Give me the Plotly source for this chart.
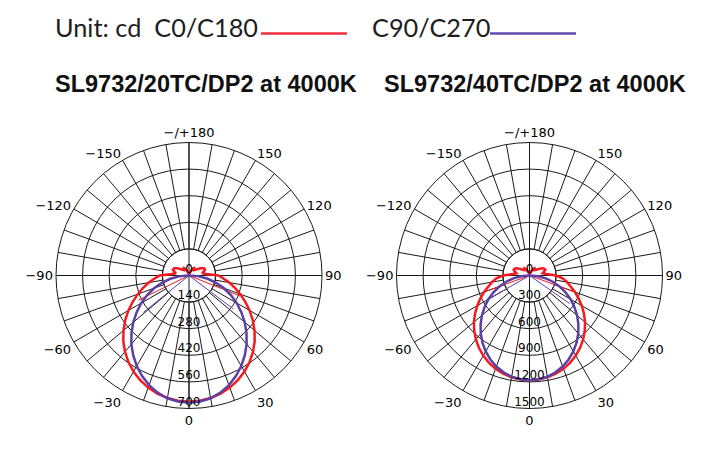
import plotly.graph_objects as go

# ---------------- data ----------------
GAMMA = [0, 5, 10, 15, 20, 25, 30, 35, 40, 45, 50, 55, 60, 65, 70, 75, 80, 85, 90,
         95, 100, 105, 110, 115, 120, 125, 130, 135, 140, 145, 150, 155, 160, 165, 170, 175, 180]

# SL9732/20TC/DP2 (cd)
L_C0 = [665, 662, 655, 644, 628, 608, 584, 556, 524, 489, 450, 410, 368, 327, 287, 250, 215, 182, 155,
        90, 70, 80, 90, 88, 78, 62, 48, 40, 45, 48, 42, 30, 18, 10, 5, 2, 0]
L_C90 = [670, 666, 656, 638, 614, 584, 550, 512, 472, 428, 383, 336, 290, 243, 196, 148, 100, 52, 8,
         5, 4, 3, 3, 3, 3, 2, 2, 2, 2, 2, 1, 1, 1, 1, 0, 0, 0]
# SL9732/40TC/DP2 (cd)
R_C0 = [1182, 1178, 1166, 1147, 1120, 1085, 1043, 995, 941, 881, 818, 750, 680, 611, 545, 480, 430, 375, 300,
        190, 150, 170, 190, 185, 165, 130, 100, 85, 95, 100, 88, 62, 38, 20, 10, 4, 0]
R_C90 = [1180, 1175, 1160, 1130, 1092, 1045, 988, 925, 855, 780, 700, 618, 535, 448, 360, 272, 185, 95, 10,
         6, 5, 4, 4, 3, 3, 3, 2, 2, 2, 2, 2, 1, 1, 1, 0, 0, 0]

# thin spikes (angle, cd)
L_C0_SPIKE_T, L_C0_SPIKE_R = [-64, 68], [295, 290]
L_C90_SPIKE_T, L_C90_SPIKE_R = [-51, 53], [308, 292]
R_C0_SPIKE_T, R_C0_SPIKE_R = [-70, 70], [500, 540]
R_C90_SPIKE_T, R_C90_SPIKE_R = [-60, 55], [564, 552]

L_RINGS = [0, 140, 280, 420, 560, 700]
R_RINGS = [0, 300, 600, 900, 1200, 1500]

ANG_TICKS = list(range(0, 360, 10))
ANG_LABELS = {0: "0", 30: "30", 60: "60", 90: "90", 120: "120", 150: "150", 180: "\u2212/+180",
              210: "\u2212150", 240: "\u2212120", 270: "\u221290", 300: "\u221260", 330: "\u221230"}

TITLES = ["SL9732/20TC/DP2 at 4000K", "SL9732/40TC/DP2 at 4000K"]

RED = "#f41a1f"
PURPLE = "#5b40a6"
GRID = "#1a1a1a"

# ---------------- helpers ----------------
def full_curve(vals):
    theta = [-g for g in reversed(GAMMA[1:])] + GAMMA
    r = list(reversed(vals[1:])) + vals
    return theta, r


def spikes(ts, rs):
    th, rr = [], []
    for t, v in zip(ts, rs):
        th += [t, t, None]
        rr += [0, v, None]
    return th, rr


W, H = 720, 468
OFF = 8  # page body margin compensation


def px(x):
    return (x - OFF) / W


def py(y):
    return 1 - (y - OFF) / H


fig = go.Figure()

R = 133
centers = [(189, 275.5), (529.5, 275.5)]
charts = [
    (L_C0, L_C90, L_C0_SPIKE_T, L_C0_SPIKE_R, L_C90_SPIKE_T, L_C90_SPIKE_R, L_RINGS),
    (R_C0, R_C90, R_C0_SPIKE_T, R_C0_SPIKE_R, R_C90_SPIKE_T, R_C90_SPIKE_R, R_RINGS),
]

layout_polars = {}
for i, (c0, c90, s0t, s0r, s9t, s9r, rings) in enumerate(charts):
    cx, cy = centers[i]
    dom = dict(x=[px(cx - R), px(cx + R)], y=[py(cy + R), py(cy - R)])
    gname = "polar" if i == 0 else "polar3"
    dname = "polar2" if i == 0 else "polar4"
    rmax = rings[-1]
    inner = rings[1]

    layout_polars[gname] = dict(
        domain=dom, hole=inner / rmax, bgcolor="white",
        angularaxis=dict(rotation=270, direction="counterclockwise",
                         tickmode="array", tickvals=ANG_TICKS,
                         ticktext=[ANG_LABELS.get(t, "") for t in ANG_TICKS],
                         showgrid=True, gridcolor=GRID, gridwidth=1,
                         showline=True, linecolor=GRID, linewidth=1, ticks="",
                         tickfont=dict(family="DejaVu Sans", size=13, color="#000")),
        radialaxis=dict(range=[inner, rmax], tickmode="array", tickvals=rings[1:-1],
                        showgrid=True, gridcolor=GRID, gridwidth=1,
                        showline=False, showticklabels=False, ticks=""),
    )
    layout_polars[dname] = dict(
        domain=dom, bgcolor="rgba(0,0,0,0)",
        angularaxis=dict(rotation=270, direction="counterclockwise",
                         tickmode="array", tickvals=[0, 90, 180, 270],
                         showgrid=True, gridcolor=GRID, gridwidth=1,
                         showline=False, showticklabels=False, ticks=""),
        radialaxis=dict(range=[0, rmax], tickmode="array", tickvals=[inner],
                        showgrid=True, gridcolor=GRID, gridwidth=1,
                        showline=False, showticklabels=False, ticks=""),
    )

    fig.add_trace(go.Scatterpolar(r=[inner], theta=[0], mode="markers",
                                  marker=dict(opacity=0), hoverinfo="skip",
                                  subplot=gname))

    th, rr = spikes(s0t, s0r)
    fig.add_trace(go.Scatterpolar(r=rr, theta=th, mode="lines",
                                  line=dict(color=RED, width=1), subplot=dname))
    th, rr = spikes(s9t, s9r)
    fig.add_trace(go.Scatterpolar(r=rr, theta=th, mode="lines",
                                  line=dict(color=PURPLE, width=1), subplot=dname))
    th, rr = full_curve(c0)
    fig.add_trace(go.Scatterpolar(r=rr, theta=th, mode="lines", name="C0/C180",
                                  line=dict(color=RED, width=2.5), subplot=dname))
    th, rr = full_curve(c90)
    fig.add_trace(go.Scatterpolar(r=rr, theta=th, mode="lines", name="C90/C270",
                                  line=dict(color=PURPLE, width=2.5), subplot=dname))
    fig.add_trace(go.Scatterpolar(r=rings, theta=[0] * len(rings), mode="text",
                                  text=[str(v) for v in rings], textposition="top center",
                                  textfont=dict(family="DejaVu Sans", size=12, color="#000"),
                                  cliponaxis=False, subplot=dname))

fig.update_layout(**layout_polars)

ann = []
ann.append(dict(x=px(53), y=py(27), xref="paper", yref="paper", xanchor="left", yanchor="middle",
                text="Unit: cd  C0/C180", showarrow=False,
                font=dict(family="Lato", size=25.3, color="#1e1e1e")))
ann.append(dict(x=px(370), y=py(27), xref="paper", yref="paper", xanchor="left", yanchor="middle",
                text="C90/C270", showarrow=False,
                font=dict(family="Lato", size=25.3, color="#1e1e1e")))
for x0, t in zip([53, 382], TITLES):
    ann.append(dict(x=px(x0), y=py(84), xref="paper", yref="paper", xanchor="left", yanchor="middle",
                    text="<b>" + t + "</b>", showarrow=False,
                    font=dict(family="Liberation Sans", size=23.5, color="#111")))

shapes = [
    dict(type="line", xref="paper", yref="paper", x0=px(261), x1=px(347), y0=py(33.5), y1=py(33.5),
         line=dict(color="#ee2f3c", width=2.5)),
    dict(type="line", xref="paper", yref="paper", x0=px(490), x1=px(576), y0=py(33.5), y1=py(33.5),
         line=dict(color="#6249ad", width=2.5)),
]

fig.update_layout(width=W, height=H, margin=dict(l=0, r=0, t=0, b=0),
                  paper_bgcolor="white", showlegend=False,
                  annotations=ann, shapes=shapes)

fig.write_html("out.html")
